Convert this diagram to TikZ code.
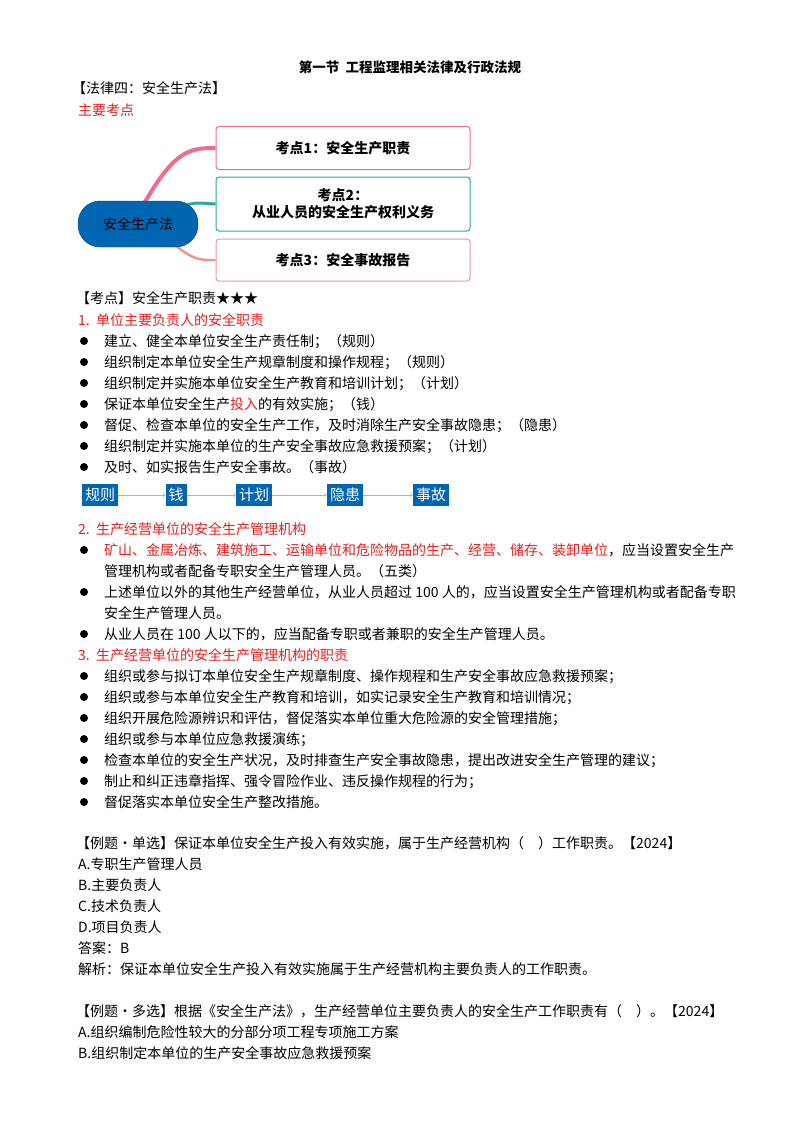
\documentclass[tikz,border=0pt]{standalone}
\usepackage{fontspec}
\setmainfont{Noto Sans CJK SC}
\usetikzlibrary{shapes.geometric}
\definecolor{rd}{RGB}{230,30,30}
\definecolor{pk}{RGB}{240,110,140}
\definecolor{tl}{RGB}{40,170,160}
\definecolor{sa}{RGB}{240,150,150}
\definecolor{bl}{RGB}{0,102,178}
\begin{document}
\begin{tikzpicture}[x=1pt,y=-1pt,
 t/.style={anchor=base west,inner sep=0pt,font=\fontsize{14}{16}\selectfont},
 r/.style={t,text=rd},
 bx/.style={draw,rounded corners=3pt,line width=1pt,minimum width=254pt,align=center,font=\fontsize{14}{17}\selectfont\bfseries},
 fb/.style={fill=bl,text=white,inner sep=3pt,minimum height=22pt,font=\fontsize{15}{16}\selectfont},
 fl/.style={draw=gray!60,line width=0.8pt,->}]
\useasboundingbox (0,0) rectangle (800,1132);
\newcommand\bul[1]{\fill (84,#1-5) circle (4);}
\node[t,anchor=base,font=\fontsize{13.5}{16}\selectfont\bfseries] (title) at (410,72) {第一节\ \ 工程监理相关法律及行政法规};
\node[t] (law) at (72,93) {【法律四：安全生产法】};
\node[r] (main) at (78,115) {主要考点};
% mind map
\node[bx,draw=pk,minimum height=43pt] (k1) at (343,148) {考点1：安全生产职责};
\node[bx,draw=tl,minimum height=54pt] (k2) at (343,204) {考点2：\\从业人员的安全生产权利义务};
\node[bx,draw=sa,minimum height=42pt] (k3) at (343,260) {考点3：安全事故报告};
\draw[pk,line width=4pt] (145,202) .. controls (175,150) and (190,148) .. (k1.west);
\draw[tl,line width=3pt] (180,208) .. controls (195,200) and (205,204) .. (k2.west);
\draw[sa,line width=2.5pt] (175,245) .. controls (195,262) and (205,260) .. (k3.west);
\node[fill=bl,draw=bl!70!black,rounded corners=22pt,minimum width=120pt,minimum height=46pt,font=\fontsize{14}{16}\selectfont] (c) at (138,224) {安全生产法};
% section 1
\node[t] (kd) at (76,303) {【考点】安全生产职责★★★};
\node[r] (s1) at (78,325) {1.\ \ 单位主要负责人的安全职责};
\bul{346}\node[t] (a1) at (104,346) {建立、健全本单位安全生产责任制；（规则）};
\bul{367}\node[t] (a2) at (104,367) {组织制定本单位安全生产规章制度和操作规程；（规则）};
\bul{388}\node[t] (a3) at (104,388) {组织制定并实施本单位安全生产教育和培训计划；（计划）};
\bul{409}\node[t] (a4) at (104,409) {保证本单位安全生产\textcolor{rd}{投入}的有效实施；（钱）};
\bul{430}\node[t] (a5) at (104,430) {督促、检查本单位的安全生产工作，及时消除生产安全事故隐患；（隐患）};
\bul{451}\node[t] (a6) at (104,451) {组织制定并实施本单位的生产安全事故应急救援预案；（计划）};
\bul{472}\node[t] (a7) at (104,472) {及时、如实报告生产安全事故。（事故）};
% flow bar
\node[fb] (f1) at (100,495) {规则};
\node[fb] (f2) at (176,495) {钱};
\node[fb] (f3) at (254,495) {计划};
\node[fb] (f4) at (345,495) {隐患};
\node[fb] (f5) at (431,495) {事故};
\draw[fl] (f1) -- (f2); \draw[fl] (f2) -- (f3); \draw[fl] (f3) -- (f4); \draw[fl] (f4) -- (f5);
% section 2
\node[r] (s2) at (78,534) {2.\ \ 生产经营单位的安全生产管理机构};
\bul{555}\node[t] (b1) at (104,555) {\textcolor{rd}{矿山、金属冶炼、建筑施工、运输单位和危险物品的生产、经营、储存、装卸单位}，应当设置安全生产};
\node[t] (b1b) at (104,576) {管理机构或者配备专职安全生产管理人员。（五类）};
\bul{597}\node[t] (b2) at (104,597) {上述单位以外的其他生产经营单位，从业人员超过 100 人的，应当设置安全生产管理机构或者配备专职};
\node[t] (b2b) at (104,618) {安全生产管理人员。};
\bul{639}\node[t] (b3) at (104,639) {从业人员在 100 人以下的，应当配备专职或者兼职的安全生产管理人员。};
% section 3
\node[r] (s3) at (78,660) {3.\ \ 生产经营单位的安全生产管理机构的职责};
\bul{681}\node[t] (c1) at (104,681) {组织或参与拟订本单位安全生产规章制度、操作规程和生产安全事故应急救援预案；};
\bul{702}\node[t] (c2) at (104,702) {组织或参与本单位安全生产教育和培训，如实记录安全生产教育和培训情况；};
\bul{723}\node[t] (c3) at (104,723) {组织开展危险源辨识和评估，督促落实本单位重大危险源的安全管理措施；};
\bul{744}\node[t] (c4) at (104,744) {组织或参与本单位应急救援演练；};
\bul{765}\node[t] (c5) at (104,765) {检查本单位的安全生产状况，及时排查生产安全事故隐患，提出改进安全生产管理的建议；};
\bul{786}\node[t] (c6) at (104,786) {制止和纠正违章指挥、强令冒险作业、违反操作规程的行为；};
\bul{807}\node[t] (c7) at (104,807) {督促落实本单位安全生产整改措施。};
% examples
\node[t] (e1) at (76,848) {【例题·单选】保证本单位安全生产投入有效实施，属于生产经营机构（\quad）工作职责。【2024】};
\node[t] (e1a) at (78,869) {A.专职生产管理人员};
\node[t] (e1b) at (78,890) {B.主要负责人};
\node[t] (e1c) at (78,911) {C.技术负责人};
\node[t] (e1d) at (78,932) {D.项目负责人};
\node[t] (e1e) at (78,953) {答案：B};
\node[t] (e1f) at (78,974) {解析：保证本单位安全生产投入有效实施属于生产经营机构主要负责人的工作职责。};
\node[t] (e2) at (76,1016) {【例题·多选】根据《安全生产法》，生产经营单位主要负责人的安全生产工作职责有（\quad）。【2024】};
\node[t] (e2a) at (78,1037) {A.组织编制危险性较大的分部分项工程专项施工方案};
\node[t] (e2b) at (78,1058) {B.组织制定本单位的生产安全事故应急救援预案};
\end{tikzpicture}
\end{document}
